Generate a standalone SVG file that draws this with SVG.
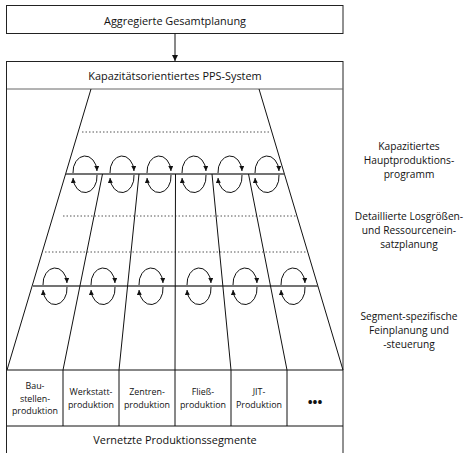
<svg xmlns="http://www.w3.org/2000/svg" width="472" height="453" viewBox="0 0 472 453">
<style>
text{font-family:"Open Sans","Noto Sans",sans-serif;fill:#111;text-anchor:middle}
.m{font-size:10.9px}
.r{font-size:10.2px}
.b{font-size:8.9px}
.box{fill:#fff;stroke:#222;stroke-width:1}
.ln{stroke:#111;stroke-width:1;fill:none}
.hl{stroke:#444;stroke-width:1.4;fill:none}
.dt{stroke:#555;stroke-width:1;stroke-dasharray:1.5 2;fill:none}
.rot{stroke:#111;stroke-width:1;fill:none}
</style>
<defs>
<marker id="ah" markerUnits="userSpaceOnUse" markerWidth="7" markerHeight="6" refX="6" refY="3" orient="auto">
<path d="M0,0 L6,3 L0,6 z" fill="#111"/>
</marker>
<marker id="ra" markerUnits="userSpaceOnUse" markerWidth="6" markerHeight="5" refX="5" refY="2.5" orient="auto">
<path d="M0,0 L5,2.5 L0,5 z" fill="#111"/>
</marker>
<g id="rotsym">
<path class="rot" d="M-12,-1 A12,16 0 0 1 12,-3" marker-end="url(#ra)"/>
<path class="rot" d="M12,1 A12,16 0 0 1 -12,4" marker-end="url(#ra)"/>
</g>
</defs>

<g id="aggregierte">
<rect class="box" x="6.5" y="5.5" width="336.5" height="28"/>
<text class="m" x="175" y="25">Aggregierte Gesamtplanung</text>
</g>

<g id="pps">
<rect class="box" x="6.5" y="61.5" width="336.5" height="400"/>
<line x1="7" y1="89" x2="343" y2="89" stroke="#666" stroke-width="1"/>
<text class="m" x="175" y="80">Kapazitätsorientiertes PPS-System</text>
</g>

<g id="trapez">
<line class="ln" x1="91" y1="89" x2="7" y2="370"/>
<line class="ln" x1="259" y1="89" x2="343" y2="370"/>
<line class="dt" x1="82" y1="132" x2="270" y2="132"/>
<line class="dt" x1="63" y1="216" x2="297" y2="216"/>
<line class="dt" x1="45" y1="252" x2="306" y2="252"/>
<line class="hl" x1="66" y1="174" x2="285" y2="174"/>
<line class="hl" x1="33" y1="286" x2="318" y2="286"/>
<line class="ln" x1="102.5" y1="174" x2="63" y2="370"/>
<line class="ln" x1="139" y1="174" x2="119" y2="370"/>
<line class="ln" x1="175.5" y1="174" x2="175" y2="370"/>
<line class="ln" x1="212" y1="174" x2="231" y2="370"/>
<line class="ln" x1="248.5" y1="174" x2="287" y2="370"/>
</g>

<g id="rotationen">
<use href="#rotsym" x="85" y="174"/>
<use href="#rotsym" x="122" y="174"/>
<use href="#rotsym" x="159" y="174"/>
<use href="#rotsym" x="194" y="174"/>
<use href="#rotsym" x="230" y="174"/>
<use href="#rotsym" x="267" y="174"/>
<use href="#rotsym" x="55" y="286"/>
<use href="#rotsym" x="103" y="286"/>
<use href="#rotsym" x="151" y="286"/>
<use href="#rotsym" x="199" y="286"/>
<use href="#rotsym" x="245" y="286"/>
<use href="#rotsym" x="293" y="286"/>
</g>

<g id="segmente">
<line class="ln" x1="7" y1="370" x2="343" y2="370"/>
<line class="ln" x1="7" y1="426" x2="343" y2="426"/>
<line class="ln" x1="63" y1="370" x2="63" y2="426"/>
<line class="ln" x1="119" y1="370" x2="119" y2="426"/>
<line class="ln" x1="175" y1="370" x2="175" y2="426"/>
<line class="ln" x1="231" y1="370" x2="231" y2="426"/>
<line class="ln" x1="287" y1="370" x2="287" y2="426"/>
</g>
<g id="seg-bau"><text class="b" x="35" y="389">Bau-</text><text class="b" x="35" y="401.5">stellen-</text><text class="b" x="35" y="414">produktion</text></g>
<g id="seg-werkstatt"><text class="b" x="91" y="395">Werkstatt-</text><text class="b" x="91" y="407.5">produktion</text></g>
<g id="seg-zentren"><text class="b" x="147" y="395">Zentren-</text><text class="b" x="147" y="407.5">produktion</text></g>
<g id="seg-fliess"><text class="b" x="203" y="395">Fließ-</text><text class="b" x="203" y="407.5">produktion</text></g>
<g id="seg-jit"><text class="b" x="259" y="395">JIT-</text><text class="b" x="259" y="407.5">Produktion</text></g>
<g id="seg-more"><text x="315" y="407" style="font-size:13px;font-weight:bold">•••</text></g>
<g id="vernetzt"><text class="m" x="175" y="444">Vernetzte Produktionssegmente</text></g>

<g id="labels">
<text class="r" x="409" y="150">Kapazitiertes</text>
<text class="r" x="409" y="164">Hauptproduktions-</text>
<text class="r" x="409" y="178">programm</text>
<text class="r" x="409" y="220">Detaillierte Losgrößen-</text>
<text class="r" x="409" y="234">und Ressourcenein-</text>
<text class="r" x="409" y="248">satzplanung</text>
<text class="r" x="409" y="320">Segment-spezifische</text>
<text class="r" x="409" y="334">Feinplanung und</text>
<text class="r" x="409" y="348">-steuerung</text>
</g>

<g id="connectors">
<line class="ln" x1="175" y1="33.5" x2="175" y2="61" marker-end="url(#ah)"/>
</g>
</svg>
